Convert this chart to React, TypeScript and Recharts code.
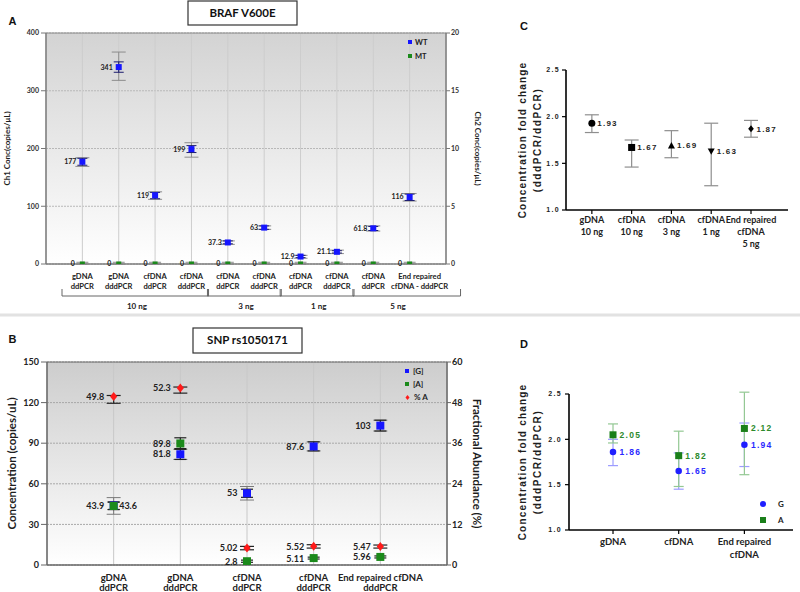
import React from "react";
import {
  ComposedChart,
  Scatter,
  XAxis,
  YAxis,
  CartesianGrid,
  ErrorBar,
  LabelList,
  ReferenceArea,
  Legend,
} from "recharts";

const FONT = "Lato, 'Open Sans', sans-serif";
const ARIAL = "'Liberation Sans', Arial, sans-serif";
const BLUE = "#1515ff";
const GREEN = "#1b8a1b";
const RED = "#ff1a1a";

/* ---------- A: BRAF V600E ---------- */
const A_TOP = ["gDNA", "gDNA", "cfDNA", "cfDNA", "cfDNA", "cfDNA", "cfDNA", "cfDNA", "cfDNA", "End repaired"];
const A_BOTTOM = ["ddPCR", "dddPCR", "ddPCR", "dddPCR", "ddPCR", "dddPCR", "ddPCR", "dddPCR", "ddPCR", "cfDNA - dddPCR"];
const A_GROUPS = ["10 ng", "3 ng", "1 ng", "5 ng"];
const A_GROUP_FIRST = [1, 5, 7, 9];
const A_GROUP_LAST = [4, 6, 8, 10];
const A_WT = [177, 341, 119, 199, 37.3, 63, 12.9, 21.1, 61.8, 116];
const A_WT_LO = [171, 332, 113, 193, 35, 60, 11, 19, 58, 110];
const A_WT_HI = [183, 350, 124, 205, 40, 66, 15, 23, 65, 121];
const A_WT_TOT_LO = [169, 318, 112, 185, 34, 60, 10, 18, 57, 109];
const A_WT_TOT_HI = [184, 367, 125, 210, 40, 66, 15, 24, 66, 122];
const A_MT = [0, 0, 0, 0, 0, 0, 0, 0, 0, 0];
const A_MT_HI = [0.15, 0.15, 0.15, 0.15, 0.15, 0.15, 0.15, 0.15, 0.15, 0.15];
const A_LEFT_TICKS = [0, 100, 200, 300, 400];
const A_RIGHT_TICKS = [0, 5, 10, 15, 20];

/* ---------- B: SNP rs1050171 ---------- */
const B_TOP = ["gDNA", "gDNA", "cfDNA", "cfDNA", "End repaired cfDNA"];
const B_BOTTOM = ["ddPCR", "dddPCR", "ddPCR", "dddPCR", "dddPCR"];
const B_G = [43.9, 81.8, 53, 87.6, 103];
const B_G_LO = [41, 78, 50, 84.3, 99];
const B_G_HI = [46.5, 85.5, 56, 91, 107];
const B_G_TOT_LO = [37.5, 78, 48, 84.3, 99];
const B_G_TOT_HI = [49.8, 85.5, 58, 91, 107];
const B_A = [43.6, 89.8, 2.8, 5.11, 5.96];
const B_A_LO = [41, 86, 2.0, 4.4, 5.2];
const B_A_HI = [46.5, 94, 3.6, 5.8, 6.7];
const B_PCT = [49.8, 52.3, 5.02, 5.52, 5.47];
const B_PCT_LO = [47.8, 50.8, 4.5, 5.0, 5.0];
const B_PCT_HI = [50.1, 52.6, 5.5, 6.0, 5.9];
const B_LEFT_TICKS = [0, 30, 60, 90, 120, 150];
const B_RIGHT_TICKS = [0, 12, 24, 36, 48, 60];

/* ---------- C: fold change BRAF ---------- */
const C_LINE1 = ["gDNA", "cfDNA", "cfDNA", "cfDNA", "End repaired"];
const C_LINE2 = ["10 ng", "10 ng", "3 ng", "1 ng", "cfDNA"];
const C_LINE3 = ["", "", "", "", "5 ng"];
const C_FOLD = [1.93, 1.67, 1.69, 1.63, 1.87];
const C_LO = [1.83, 1.46, 1.56, 1.26, 1.78];
const C_HI = [2.02, 1.75, 1.85, 1.93, 1.96];
const C_MARKERS = ["circle", "square", "triangle", "triangleDown", "diamond"];

/* ---------- D: fold change SNP ---------- */
const D_LINE1 = ["gDNA", "cfDNA", "End repaired"];
const D_LINE2 = ["", "", "cfDNA"];
const D_G = [1.86, 1.65, 1.94];
const D_G_LO = [1.71, 1.45, 1.7];
const D_G_HI = [2.0, 1.85, 2.18];
const D_A = [2.05, 1.82, 2.12];
const D_A_LO = [1.96, 1.48, 1.61];
const D_A_HI = [2.17, 2.09, 2.52];
const FOLD_TICKS = [1, 1.5, 2, 2.5];

const errPair = (v: number, lo: number, hi: number) => [v - lo, hi - v];

/* ---------- shared marks ---------- */
const Marker = ({ kind, cx, cy, s, color }: any) => {
  const h = s / 2;
  if (kind === "circle") return <circle cx={cx} cy={cy} r={h} fill={color} />;
  if (kind === "triangle")
    return <polygon points={`${cx},${cy - h} ${cx + h},${cy + h * 0.8} ${cx - h},${cy + h * 0.8}`} fill={color} />;
  if (kind === "triangleDown")
    return <polygon points={`${cx},${cy + h} ${cx + h},${cy - h * 0.8} ${cx - h},${cy - h * 0.8}`} fill={color} />;
  if (kind === "diamond")
    return <polygon points={`${cx},${cy - h} ${cx + h * 0.8},${cy} ${cx},${cy + h} ${cx - h * 0.8},${cy}`} fill={color} />;
  return <rect x={cx - h} y={cy - h} width={s} height={s} fill={color} />;
};

const shapeOf = (kind: string, s: number, color: string) => (p: any) =>
  <Marker kind={kind} cx={p.cx} cy={p.cy} s={s} color={color} />;

// recharts clones the label element with its own props (angle, offset...), so use distinct names
const AxisTitle = ({ viewBox, text, shiftX, rot, size }: any) => {
  const vb = viewBox || { x: 0, y: 0, width: 0, height: 0 };
  return (
    <text
      transform={`translate(${vb.x + shiftX},${vb.y + vb.height / 2}) rotate(${rot})`}
      textAnchor="middle"
      dominantBaseline="central"
      fontFamily={FONT}
      fontWeight={700}
      fontSize={size}
      fill="#1e1e1e"
    >
      {text}
    </text>
  );
};

const FoldTitle = ({ viewBox }: any) => {
  const vb = viewBox || { x: 0, y: 0, width: 0, height: 0 };
  const cy = vb.y + vb.height / 2;
  const common = {
    textAnchor: "middle" as const,
    dominantBaseline: "central" as const,
    fontFamily: ARIAL,
    fontWeight: 700,
    fontSize: 10,
    fill: "#1e1e1e",
  };
  return (
    <g>
      <text {...common} style={{ letterSpacing: "1.2px" }} transform={`translate(${vb.x + 22},${cy}) rotate(-90)`}>
        Concentration fold change
      </text>
      <text {...common} style={{ letterSpacing: "1.6px" }} transform={`translate(${vb.x + 37},${cy}) rotate(-90)`}>
        (dddPCR/ddPCR)
      </text>
    </g>
  );
};

const LegendBox = ({ items, rowH, gap, size }: any) => (
  <div style={{ position: "relative", width: 50, height: items.length * rowH }}>
    {items.map((it: any, k: number) => (
      <div
        key={k}
        style={{
          position: "absolute",
          left: 0,
          top: k * rowH,
          height: rowH,
          display: "flex",
          alignItems: "center",
          whiteSpace: "nowrap",
        }}
      >
        <svg width={it.s + 2} height={it.s + 2} style={{ display: "block" }}>
          <Marker kind={it.kind} cx={(it.s + 2) / 2} cy={(it.s + 2) / 2} s={it.s} color={it.color} />
        </svg>
        <span style={{ marginLeft: gap, fontFamily: FONT, fontWeight: 700, fontSize: size, color: "#222" }}>{it.label}</span>
      </div>
    ))}
  </div>
);

/* ---------- panel A ---------- */
const A_PPU = 400 / 11;

const ATick = (p: any) => {
  const v = Math.round(p.payload.value);
  const i = v - 1;
  const g = A_GROUP_FIRST.indexOf(v);
  const txt = { textAnchor: "middle" as const, fontFamily: FONT, fontWeight: 700, fontSize: 7.6, fill: "#222" };
  // the last, wider label sits a little right of its column in the original
  const lx = p.x + (v === 10 ? 10 : 0);
  let bracket = null;
  if (g >= 0) {
    const last = A_GROUP_LAST[g];
    const isLast = g === A_GROUPS.length - 1;
    const x0 = p.x - 0.56 * A_PPU;
    const x1 = p.x + (last - v + 0.47 + (isLast ? 0.93 : 0)) * A_PPU;
    const xl = p.x + ((last - v) / 2 + (isLast ? 0.18 : 0)) * A_PPU;
    const yb = p.y + 32;
    bracket = (
      <g>
        <path d={`M${x0},${p.y + 25} L${x0},${yb} L${x1},${yb} L${x1},${p.y + 25}`} fill="none" stroke="#666" strokeWidth={1} />
        <text {...txt} fontSize={8} x={xl} y={p.y + 45}>{A_GROUPS[g]}</text>
      </g>
    );
  }
  return (
    <g>
      <text {...txt} x={lx} y={p.y + 14.5}>{A_TOP[i]}</text>
      <text {...txt} x={lx} y={p.y + 24.5}>{A_BOTTOM[i]}</text>
      {bracket}
    </g>
  );
};

function PanelA() {
  const wt = A_WT.map((v, i) => ({
    x: i + 1,
    y: v,
    inner: errPair(v, A_WT_LO[i], A_WT_HI[i]),
    outer: errPair(v, A_WT_TOT_LO[i], A_WT_TOT_HI[i]),
    label: String(v),
  }));
  const mt = A_MT.map((v, i) => ({ x: i + 1, y: v, err: [0, A_MT_HI[i]], label: String(v) }));
  const tick = { fontSize: 7, fill: "#333", fontWeight: 700, fontFamily: FONT };
  const legendItems = [
    { label: "WT", kind: "square", s: 4, color: BLUE },
    { label: "MT", kind: "square", s: 4, color: GREEN },
  ];
  return (
    <div style={{ position: "absolute", left: 0, top: 0 }}>
      <ComposedChart width={490} height={315} margin={{ top: 33, right: 0, bottom: 0, left: 0 }}>
        <defs>
          <linearGradient id="gA" x1="0" y1="0" x2="0" y2="1">
            <stop offset="0%" stopColor="#d3d3d3" />
            <stop offset="100%" stopColor="#ffffff" />
          </linearGradient>
        </defs>
        <CartesianGrid vertical={false} stroke="#b8b8b8" strokeDasharray="2 1" fill="url(#gA)" fillOpacity={1} />
        <CartesianGrid horizontal={false} stroke="#cdcdcd" />
        <XAxis
          dataKey="x"
          type="number"
          domain={[0, 11]}
          ticks={[1, 2, 3, 4, 5, 6, 7, 8, 9, 10]}
          interval={0}
          allowDataOverflow
          height={51}
          tickSize={0}
          tickMargin={0}
          tickLine={false}
          axisLine={{ stroke: "#777" }}
          tick={(p: any) => <ATick {...p} />}
        />
        <YAxis
          dataKey="y"
          type="number"
          domain={[0, 400]}
          ticks={A_LEFT_TICKS}
          allowDataOverflow
          width={46}
          tickSize={5}
          tickMargin={2}
          tick={tick}
          axisLine={{ stroke: "#777" }}
          tickLine={{ stroke: "#777" }}
          label={<AxisTitle text="Ch1 Conc(copies/μL)" shiftX={6.5} rot={-90} size={8} />}
        />
        <YAxis
          yAxisId="r"
          orientation="right"
          dataKey="y"
          type="number"
          domain={[0, 20]}
          ticks={A_RIGHT_TICKS}
          allowDataOverflow
          width={44}
          tickSize={4}
          tickMargin={1}
          tick={tick}
          axisLine={{ stroke: "#777" }}
          tickLine={{ stroke: "#777" }}
          label={<AxisTitle text="Ch2 Conc(copies/μL)" shiftX={32} rot={90} size={8} />}
        />
        <ReferenceArea x1={0} x2={11} y1={0} y2={400} fill="none" stroke="#8a8a8a" ifOverflow="visible" />
        <Scatter name="WT" data={wt} dataKey="y" fill={BLUE} isAnimationActive={false} shape={shapeOf("square", 6, BLUE)}>
          <ErrorBar dataKey="outer" direction="y" width={7} stroke="#8c8c8c" strokeWidth={1} />
          <ErrorBar dataKey="inner" direction="y" width={5} stroke="#1b1b6e" strokeWidth={1} />
          <LabelList dataKey="label" position="left" offset={1.5} fill="#222" fontSize={7} fontWeight={700} fontFamily={FONT} />
        </Scatter>
        <Scatter name="MT" yAxisId="r" data={mt} dataKey="y" fill={GREEN} isAnimationActive={false} shape={shapeOf("square", 5, GREEN)}>
          <ErrorBar dataKey="err" direction="y" width={6} stroke="#8c8c8c" strokeWidth={1} />
          <LabelList dataKey="label" position="left" offset={3} fill="#222" fontSize={7} fontWeight={700} fontFamily={FONT} />
        </Scatter>
        <Legend
          layout="vertical"
          align="center"
          verticalAlign="middle"
          wrapperStyle={{ left: 407, top: 35.5, width: "auto" }}
          content={() => <LegendBox items={legendItems} rowH={13.7} gap={2} size={7.5} />}
        />
      </ComposedChart>
    </div>
  );
}

/* ---------- panel B ---------- */
const BTick = (p: any) => {
  const i = Math.round(p.payload.value) - 1;
  const txt = { textAnchor: "middle" as const, fontFamily: FONT, fontWeight: 700, fontSize: 9.5, fill: "#222" };
  return (
    <g>
      <text {...txt} x={p.x} y={p.y + 15.5}>{B_TOP[i]}</text>
      <text {...txt} x={p.x} y={p.y + 25.5}>{B_BOTTOM[i]}</text>
    </g>
  );
};

function PanelB() {
  const g = B_G.map((v, i) => ({
    x: i + 1,
    y: v,
    inner: errPair(v, B_G_LO[i], B_G_HI[i]),
    outer: errPair(v, B_G_TOT_LO[i], B_G_TOT_HI[i]),
    label: String(v),
  }));
  const a = B_A.map((v, i) => ({ x: i + 1, y: v, err: errPair(v, B_A_LO[i], B_A_HI[i]), label: String(v) }));
  const pct = B_PCT.map((v, i) => ({ x: i + 1, y: v, err: errPair(v, B_PCT_LO[i], B_PCT_HI[i]), label: String(v) }));
  const tick = { fontSize: 9, fill: "#222", fontWeight: 700, fontFamily: FONT };
  const lab = { fill: "#222", fontSize: 9, fontWeight: 700, fontFamily: FONT };
  const legendItems = [
    { label: "[G]", kind: "square", s: 4, color: BLUE },
    { label: "[A]", kind: "square", s: 4, color: GREEN },
    { label: "% A", kind: "diamond", s: 5, color: RED },
  ];
  return (
    <div style={{ position: "absolute", left: 0, top: 320 }}>
      <ComposedChart width={490} height={272} margin={{ top: 42, right: 0, bottom: 0, left: 0 }}>
        <defs>
          <linearGradient id="gB" x1="0" y1="0" x2="0" y2="1">
            <stop offset="0%" stopColor="#cdcdcd" />
            <stop offset="100%" stopColor="#ffffff" />
          </linearGradient>
        </defs>
        <CartesianGrid vertical={false} stroke="#a8a8a8" strokeDasharray="2 1" fill="url(#gB)" fillOpacity={1} />
        <CartesianGrid horizontal={false} stroke="#c8c8c8" />
        <XAxis
          dataKey="x"
          type="number"
          domain={[0, 6]}
          ticks={[1, 2, 3, 4, 5]}
          interval={0}
          allowDataOverflow
          height={27}
          tickSize={0}
          tickMargin={0}
          tickLine={false}
          axisLine={{ stroke: "#666" }}
          tick={(p: any) => <BTick {...p} />}
        />
        <YAxis
          dataKey="y"
          type="number"
          domain={[0, 150]}
          ticks={B_LEFT_TICKS}
          allowDataOverflow
          width={47}
          tickSize={6}
          tickMargin={2}
          tick={tick}
          axisLine={{ stroke: "#666" }}
          tickLine={{ stroke: "#666" }}
          label={<AxisTitle text="Concentration (copies/uL)" shiftX={11.5} rot={-90} size={11.5} />}
        />
        <YAxis
          yAxisId="r"
          orientation="right"
          dataKey="y"
          type="number"
          domain={[0, 60]}
          ticks={B_RIGHT_TICKS}
          allowDataOverflow
          width={43}
          tickSize={4}
          tickMargin={1}
          tick={tick}
          axisLine={{ stroke: "#666" }}
          tickLine={{ stroke: "#666" }}
          label={<AxisTitle text="Fractional Abundance (%)" shiftX={30} rot={90} size={11.5} />}
        />
        <ReferenceArea x1={0} x2={6} y1={0} y2={150} fill="none" stroke="#6a6a6a" ifOverflow="visible" />
        <Scatter name="[G]" data={g} dataKey="y" fill={BLUE} isAnimationActive={false} shape={shapeOf("square", 8, BLUE)}>
          <ErrorBar dataKey="outer" direction="y" width={7} stroke="#7a7a7a" strokeWidth={1} />
          <ErrorBar dataKey="inner" direction="y" width={6} stroke="#222" strokeWidth={1.2} />
          <LabelList dataKey="label" position="left" offset={5} {...lab} />
        </Scatter>
        <Scatter name="[A]" data={a} dataKey="y" fill={GREEN} isAnimationActive={false} shape={shapeOf("square", 8, GREEN)}>
          <ErrorBar dataKey="err" direction="y" width={6} stroke="#222" strokeWidth={1.2} />
          <LabelList
            dataKey="label"
            content={(p: any) => {
              const right = p.index === 0;
              return (
                <text
                  x={right ? p.x + p.width + 1 : p.x - 5}
                  y={p.y + p.height / 2}
                  textAnchor={right ? "start" : "end"}
                  dominantBaseline="central"
                  {...lab}
                >
                  {p.value}
                </text>
              );
            }}
          />
        </Scatter>
        <Scatter name="% A" yAxisId="r" data={pct} dataKey="y" fill={RED} isAnimationActive={false} shape={shapeOf("diamond", 9, RED)}>
          <ErrorBar dataKey="err" direction="y" width={7} stroke="#222" strokeWidth={1.2} />
          <LabelList dataKey="label" position="left" offset={5} {...lab} />
        </Scatter>
        <Legend
          layout="vertical"
          align="center"
          verticalAlign="middle"
          wrapperStyle={{ left: 404, top: 44, width: "auto" }}
          content={() => <LegendBox items={legendItems} rowH={13.3} gap={3} size={8} />}
        />
      </ComposedChart>
    </div>
  );
}

/* ---------- panel C ---------- */
const CTick = (p: any) => {
  const i = Math.round(p.payload.value) - 1;
  const lines = [C_LINE1[i], C_LINE2[i], C_LINE3[i]].filter(Boolean);
  return (
    <g>
      {lines.map((t, k) => (
        <text key={k} x={p.x} y={p.y + 8.7 + k * 12} textAnchor="middle" fontFamily={FONT} fontWeight={700} fontSize={9} fill="#222">
          {t}
        </text>
      ))}
    </g>
  );
};

const foldTick = { fontSize: 7, fill: "#222", fontWeight: 700, fontFamily: ARIAL, letterSpacing: 1.3 };

function PanelC() {
  const data = C_FOLD.map((v, i) => ({ x: i + 1, y: v, err: errPair(v, C_LO[i], C_HI[i]), label: v.toFixed(2), mk: C_MARKERS[i] }));
  return (
    <div style={{ position: "absolute", left: 500, top: 40 }}>
      <ComposedChart width={300} height={220} margin={{ top: 30, right: 12, bottom: 0, left: 0 }}>
        <XAxis
          dataKey="x"
          type="number"
          domain={[0.35, 5.93]}
          ticks={[1, 2, 3, 4, 5]}
          interval={0}
          allowDataOverflow
          height={50}
          tickSize={4}
          tickMargin={0}
          axisLine={{ stroke: "#000", strokeWidth: 1.6 }}
          tickLine={{ stroke: "#000", strokeWidth: 1.2 }}
          tick={(p: any) => <CTick {...p} />}
        />
        <YAxis
          dataKey="y"
          type="number"
          domain={[1, 2.5]}
          ticks={FOLD_TICKS}
          allowDataOverflow
          width={66}
          tickSize={4}
          tickMargin={2}
          tickFormatter={(v: number) => v.toFixed(1)}
          tick={foldTick}
          axisLine={{ stroke: "#000", strokeWidth: 1.6 }}
          tickLine={{ stroke: "#000", strokeWidth: 1.2 }}
          label={<FoldTitle />}
        />
        <Scatter
          data={data}
          dataKey="y"
          fill="#000"
          isAnimationActive={false}
          shape={(p: any) => <Marker kind={(p.payload && p.payload.mk) || p.mk} cx={p.cx} cy={p.cy} s={7} color="#000" />}
        >
          <ErrorBar dataKey="err" direction="y" width={7} stroke="#8e8e8e" strokeWidth={1.2} />
          <LabelList
            dataKey="label"
            position="right"
            offset={1}
            fill="#222"
            fontSize={8}
            fontWeight={700}
            fontFamily={ARIAL}
            style={{ letterSpacing: "1.2px" }}
          />
        </Scatter>
      </ComposedChart>
    </div>
  );
}

/* ---------- panel D ---------- */
const DTick = (p: any) => {
  const i = Math.round(p.payload.value) - 1;
  const lines = [D_LINE1[i], D_LINE2[i]].filter(Boolean);
  return (
    <g>
      {lines.map((t, k) => (
        <text key={k} x={p.x} y={p.y + 11 + k * 12.5} textAnchor="middle" fontFamily={FONT} fontWeight={700} fontSize={9.5} fill="#222">
          {t}
        </text>
      ))}
    </g>
  );
};

function PanelD() {
  const g = D_G.map((v, i) => ({ x: i + 1, y: v, err: errPair(v, D_G_LO[i], D_G_HI[i]), label: v.toFixed(2) }));
  const a = D_A.map((v, i) => ({ x: i + 1, y: v, err: errPair(v, D_A_LO[i], D_A_HI[i]), label: v.toFixed(2) }));
  const legendItems = [
    { label: "G", kind: "circle", s: 6, color: "#1f1fff" },
    { label: "A", kind: "square", s: 6, color: "#1a7f1a" },
  ];
  return (
    <div style={{ position: "absolute", left: 500, top: 360 }}>
      <ComposedChart width={300} height={220} margin={{ top: 34, right: 7, bottom: 0, left: 0 }}>
        <XAxis
          dataKey="x"
          type="number"
          domain={[0.33, 3.74]}
          ticks={[1, 2, 3]}
          interval={0}
          allowDataOverflow
          height={50}
          tickSize={4}
          tickMargin={0}
          axisLine={{ stroke: "#000", strokeWidth: 1.6 }}
          tickLine={{ stroke: "#000", strokeWidth: 1.2 }}
          tick={(p: any) => <DTick {...p} />}
        />
        <YAxis
          dataKey="y"
          type="number"
          domain={[1, 2.5]}
          ticks={FOLD_TICKS}
          allowDataOverflow
          width={69}
          tickSize={4}
          tickMargin={3}
          tickFormatter={(v: number) => v.toFixed(1)}
          tick={foldTick}
          axisLine={{ stroke: "#000", strokeWidth: 1.6 }}
          tickLine={{ stroke: "#000", strokeWidth: 1.2 }}
          label={<FoldTitle />}
        />
        <Scatter name="G" data={g} dataKey="y" fill="#1f1fff" isAnimationActive={false} shape={shapeOf("circle", 6.5, "#1f1fff")}>
          <ErrorBar dataKey="err" direction="y" width={5} stroke="#9c9cff" strokeWidth={1.2} />
          <LabelList
            dataKey="label"
            position="right"
            offset={2}
            fill="#2a2aff"
            fontSize={8.5}
            fontWeight={700}
            fontFamily={ARIAL}
            style={{ letterSpacing: "1.3px" }}
          />
        </Scatter>
        <Scatter name="A" data={a} dataKey="y" fill="#1a7f1a" isAnimationActive={false} shape={shapeOf("square", 7, "#1a7f1a")}>
          <ErrorBar dataKey="err" direction="y" width={5} stroke="#93c893" strokeWidth={1.2} />
          <LabelList
            dataKey="label"
            position="right"
            offset={2}
            fill="#2c8a2c"
            fontSize={8.5}
            fontWeight={700}
            fontFamily={ARIAL}
            style={{ letterSpacing: "1.3px" }}
          />
        </Scatter>
        <Legend
          layout="vertical"
          align="center"
          verticalAlign="middle"
          wrapperStyle={{ left: 259, top: 136, width: "auto" }}
          content={() => <LegendBox items={legendItems} rowH={16} gap={11} size={8} />}
        />
      </ComposedChart>
    </div>
  );
}

export default function App() {
  const letter = { fontFamily: ARIAL, fontWeight: 700, fontSize: 11, fill: "#111" };
  const title = { fontFamily: FONT, fontWeight: 700, fontSize: 11.5, fill: "#111", textAnchor: "middle" as const };
  return (
    <div style={{ position: "absolute", left: 0, top: 0, width: 800, height: 592, background: "#fff", overflow: "hidden" }}>
      <PanelA />
      <PanelB />
      <PanelC />
      <PanelD />
      <svg width={800} height={592} style={{ position: "absolute", left: 0, top: 0, pointerEvents: "none" }}>
        <rect x={0} y={313.5} width={800} height={3} fill="#e2e2e2" />
        <text {...letter} x={8.5} y={25}>A</text>
        <text {...letter} x={8.5} y={343.3}>B</text>
        <text {...letter} x={520} y={30}>C</text>
        <text {...letter} x={520} y={347.7}>D</text>
        <rect x={188} y={1} width={109} height={24} fill="#fff" stroke="#333" strokeWidth={1.2} />
        <text {...title} x={242.5} y={17.3}>BRAF V600E</text>
        <rect x={193} y={328} width={109} height={25} fill="#fff" stroke="#333" strokeWidth={1.2} />
        <text {...title} x={247.5} y={344.3}>SNP rs1050171</text>
      </svg>
    </div>
  );
}
